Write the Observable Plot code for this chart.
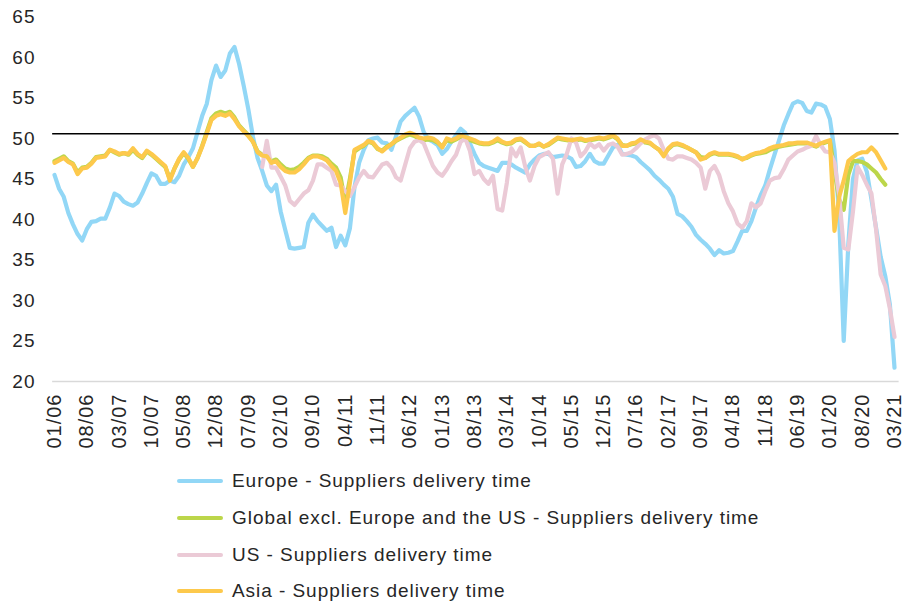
<!DOCTYPE html>
<html><head><meta charset="utf-8">
<script src="https://cdn.jsdelivr.net/npm/d3@7"></script>
<script src="https://cdn.jsdelivr.net/npm/@observablehq/plot@0.6"></script>
<style>
body{margin:0;background:#fff;font-family:"Liberation Sans",Arial,sans-serif;}
#wrap{position:relative;width:904px;height:604px;overflow:hidden;}
#legend{position:absolute;left:177px;top:463px;}
.row{display:flex;align-items:center;height:36.7px;font-size:19px;letter-spacing:0.95px;color:#262626;white-space:nowrap;}
.sw{width:46px;height:4px;margin-right:9px;border-radius:2px;}
svg text{letter-spacing:1px;}
</style></head><body><div id="wrap"><div id="chart"></div><div id="legend"></div></div>
<script>
const xLabels = ["01/06","08/06","03/07","10/07","05/08","12/08","07/09","02/10","09/10","04/11","11/11","06/12","01/13","08/13","03/14","10/14","05/15","12/15","07/16","02/17","09/17","04/18","11/18","06/19","01/20","08/20","03/21"];
const yTicks = [20,25,30,35,40,45,50,55,60,65];
const threshold = 50.6;

const seriesNames = ["Europe - Suppliers delivery time","Global excl. Europe and the US - Suppliers delivery time","US - Suppliers delivery time","Asia - Suppliers delivery time"];
const seriesColors = ["#92d7f6","#bcd64a","#ebcad6","#fdc94c"];

// monthly values, index 0 = 01/06
const europe = [45.5,43.8,42.8,40.8,39.4,38.2,37.4,38.8,39.7,39.8,
 40.1,40.1,41.5,43.2,42.9,42.2,41.9,41.7,42.1,43.2,
 44.5,45.7,45.4,44.4,44.4,44.8,44.6,45.4,46.8,47.7,
 48.8,50.8,52.8,54.3,57.2,59.0,57.6,58.4,60.5,61.3,
 59.2,56.5,53.6,50.2,47.6,46.0,44.2,43.5,44.3,41.0,
 38.7,36.5,36.4,36.5,36.6,39.6,40.6,39.8,39.2,38.6,
 39.0,36.6,38.0,36.8,38.9,44.0,47.0,48.6,49.8,50.0,
 50.1,49.5,49.4,48.6,50.3,52.1,52.8,53.3,53.8,52.7,
 50.8,49.9,49.6,49.2,48.1,48.7,49.6,50.4,51.2,50.7,
 49.4,48.1,47.0,46.6,46.4,46.2,46.0,47.0,47.0,46.8,
 46.4,46.1,45.8,46.8,47.4,47.9,48.1,48.1,47.7,47.8,
 47.9,47.8,47.5,46.5,46.6,47.2,48.1,47.2,46.9,46.9,
 47.9,48.9,49.2,48.1,48.0,47.9,47.7,47.1,46.6,46.1,
 45.4,44.9,44.3,43.8,42.8,40.7,40.4,39.8,39.1,38.1,
 37.5,37.0,36.4,35.6,36.2,35.8,35.9,36.1,37.3,38.6,
 38.6,39.8,41.5,43.0,44.2,46.2,48.0,49.8,51.6,53.0,
 54.3,54.6,54.4,53.4,53.2,54.3,54.2,53.9,52.4,48.5,
 40.5,25.0,37.0,45.0,47.3,47.5,45.9,42.5,39.0,35.4,
 33.0,29.5,21.7];

const globalExStart = 0;
const globalEx = [47.2,47.5,47.8,47.2,46.9,45.8,46.4,46.5,47.0,47.7,
 47.8,47.9,48.6,48.3,48.0,48.2,48.0,48.6,48.0,47.6,
 48.4,48.0,47.5,47.0,46.5,45.0,46.3,47.4,48.2,47.5,
 46.5,47.6,49.1,50.8,52.5,53.1,53.3,53.1,53.3,52.6,
 51.6,51.0,50.4,49.6,48.4,48.0,47.9,47.2,47.4,46.8,
 46.3,46.1,46.2,46.5,47.0,47.6,47.9,47.9,47.8,47.5,
 46.9,46.4,45.2,42.0,45.0,48.4,48.8,49.1,49.6,49.4,
 48.7,48.5,49.0,49.3,49.7,50.0,50.3,50.5,50.3,50.0,
 49.8,49.9,49.8,49.5,49.0,49.8,49.6,49.9,50.2,50.0,
 49.8,49.6,49.4,49.3,49.3,49.5,49.8,49.5,49.3,49.4,
 49.8,49.9,49.5,49.1,49.1,49.3,49.0,49.2,49.6,50.0,
 49.9,49.8,49.7,49.8,49.9,49.7,49.8,49.9,50.0,49.9,
 50.1,50.3,49.9,49.2,49.1,49.3,49.4,49.8,49.5,49.4,
 49.0,48.6,48.0,48.7,49.2,49.3,49.1,48.9,48.6,48.3,
 47.7,47.6,48.0,48.2,48.0,48.0,48.0,47.9,47.7,47.5,
 47.6,47.9,48.1,48.2,48.3,48.6,48.8,49.0,49.1,49.2,
 49.3,49.4,49.4,49.4,49.2,49.0,49.3,49.5,49.7,46.0,
 42.5,41.2,45.5,47.2,47.2,47.1,46.8,46.3,45.8,45.0,
 44.3];

const usStart = 45; // first US value is 10/09
const us = [46.5,49.7,46.4,46.4,45.3,
 44.2,42.3,41.8,42.5,43.2,43.6,44.8,46.8,46.8,46.4,
 46.0,44.3,44.2,43.5,42.9,44.0,45.2,46.0,45.3,45.2,
 46.0,46.8,47.0,46.4,45.2,44.8,46.8,48.8,49.6,49.8,
 49.4,48.0,46.6,45.8,45.4,46.2,47.2,48.0,49.6,50.0,
 48.5,45.6,46.0,45.0,44.4,45.4,41.3,41.1,44.5,48.8,
 47.8,48.9,46.5,44.8,46.6,47.7,48.0,48.3,47.5,43.2,
 46.8,48.1,50.0,49.5,47.8,48.4,49.4,48.9,49.3,48.5,
 49.2,49.4,49.0,48.0,48.1,48.3,48.8,49.4,49.9,50.2,
 50.4,50.0,48.6,47.5,47.4,47.8,47.8,47.6,47.4,47.0,
 46.4,43.8,46.0,46.6,45.5,43.5,42.0,41.0,39.5,39.0,
 39.8,42.0,41.5,42.0,43.5,44.8,45.1,45.2,46.2,47.4,
 47.9,48.4,48.6,48.9,49.1,50.3,49.2,48.4,48.3,47.0,
 43.0,36.5,36.3,41.0,46.5,45.5,44.3,43.2,38.8,33.2,
 31.8,29.0,25.5];

const asiaStart = 0;
const asia = [47.0,47.3,47.6,47.1,46.8,45.6,46.3,46.4,46.9,47.6,
 47.7,47.8,48.6,48.4,48.1,48.2,48.1,48.8,48.1,47.7,
 48.5,48.1,47.6,47.1,46.6,44.8,46.3,47.5,48.3,47.6,
 46.5,47.6,49.0,50.6,52.3,52.8,53.0,52.8,53.1,52.4,
 51.5,50.9,50.3,49.6,48.3,47.9,47.8,47.0,47.2,46.5,
 46.0,45.8,45.8,46.2,46.8,47.5,47.8,47.8,47.6,47.3,
 46.6,46.0,44.5,40.8,44.5,48.6,48.9,49.2,49.7,49.5,
 48.8,48.4,48.9,49.3,49.8,50.1,50.5,50.7,50.5,50.1,
 50.0,50.1,50.0,49.6,48.9,50.0,49.8,50.0,50.4,50.2,
 50.0,49.8,49.5,49.4,49.4,49.6,50.0,49.6,49.4,49.5,
 49.9,50.0,49.6,49.1,49.1,49.4,49.0,49.3,49.7,50.1,
 50.0,49.9,49.8,49.9,50.0,49.8,49.9,50.0,50.1,50.0,
 50.2,50.4,50.0,49.1,49.1,49.4,49.5,49.9,49.6,49.5,
 49.0,48.6,47.8,48.8,49.3,49.4,49.2,48.9,48.6,48.3,
 47.4,47.6,48.1,48.3,48.1,48.1,48.1,48.0,47.8,47.4,
 47.7,48.0,48.2,48.3,48.5,48.8,49.0,49.1,49.2,49.4,
 49.4,49.5,49.5,49.5,49.3,49.1,49.4,49.6,49.8,38.6,
 42.8,44.8,47.2,47.7,48.1,48.3,48.3,48.9,48.3,47.3,
 46.3];

const toRows = (arr, start) => arr.map((v, k) => ({i: start + k, v}));
const seriesData = [toRows(europe, 0), toRows(globalEx, globalExStart), toRows(us, usStart), toRows(asia, asiaStart)];
const tickIdx = xLabels.map((_, k) => k * 7);

const chart = Plot.plot({
  width: 904,
  height: 460,
  marginLeft: 54,
  marginRight: 10,
  marginTop: 16.5,
  marginBottom: 79,
  style: {fontFamily: "'Liberation Sans', Arial, sans-serif", background: "#fff", color: "#262626"},
  x: {domain: [0, 182]},
  y: {domain: [20, 65]},
  marks: [
    Plot.axisY({ticks: yTicks, tickSize: 0, tickPadding: 19, label: null, fontSize: 19}),
    Plot.axisX({ticks: tickIdx, tickFormat: d => xLabels[d / 7], tickRotate: -90, tickSize: 0, tickPadding: 12, label: null, fontSize: 20}),
    Plot.ruleY([20], {x1: -0.4, x2: 183, stroke: "#d9d9d9", strokeWidth: 1.5}),
    ...seriesData.map((rows, k) => Plot.line(rows, {x: "i", y: "v", stroke: seriesColors[k], strokeWidth: 4.2, strokeLinejoin: "round", strokeLinecap: "round"})),
    Plot.ruleY([threshold], {x1: -0.4, x2: 183, stroke: "#000", strokeWidth: 1.5})
  ]
});
document.getElementById("chart").appendChild(chart);

const legend = document.getElementById("legend");
seriesNames.forEach((name, k) => {
  const row = document.createElement("div");
  row.className = "row";
  const sw = document.createElement("div");
  sw.className = "sw";
  sw.style.background = seriesColors[k];
  const label = document.createElement("span");
  label.textContent = name;
  row.appendChild(sw);
  row.appendChild(label);
  legend.appendChild(row);
});
</script></body></html>
